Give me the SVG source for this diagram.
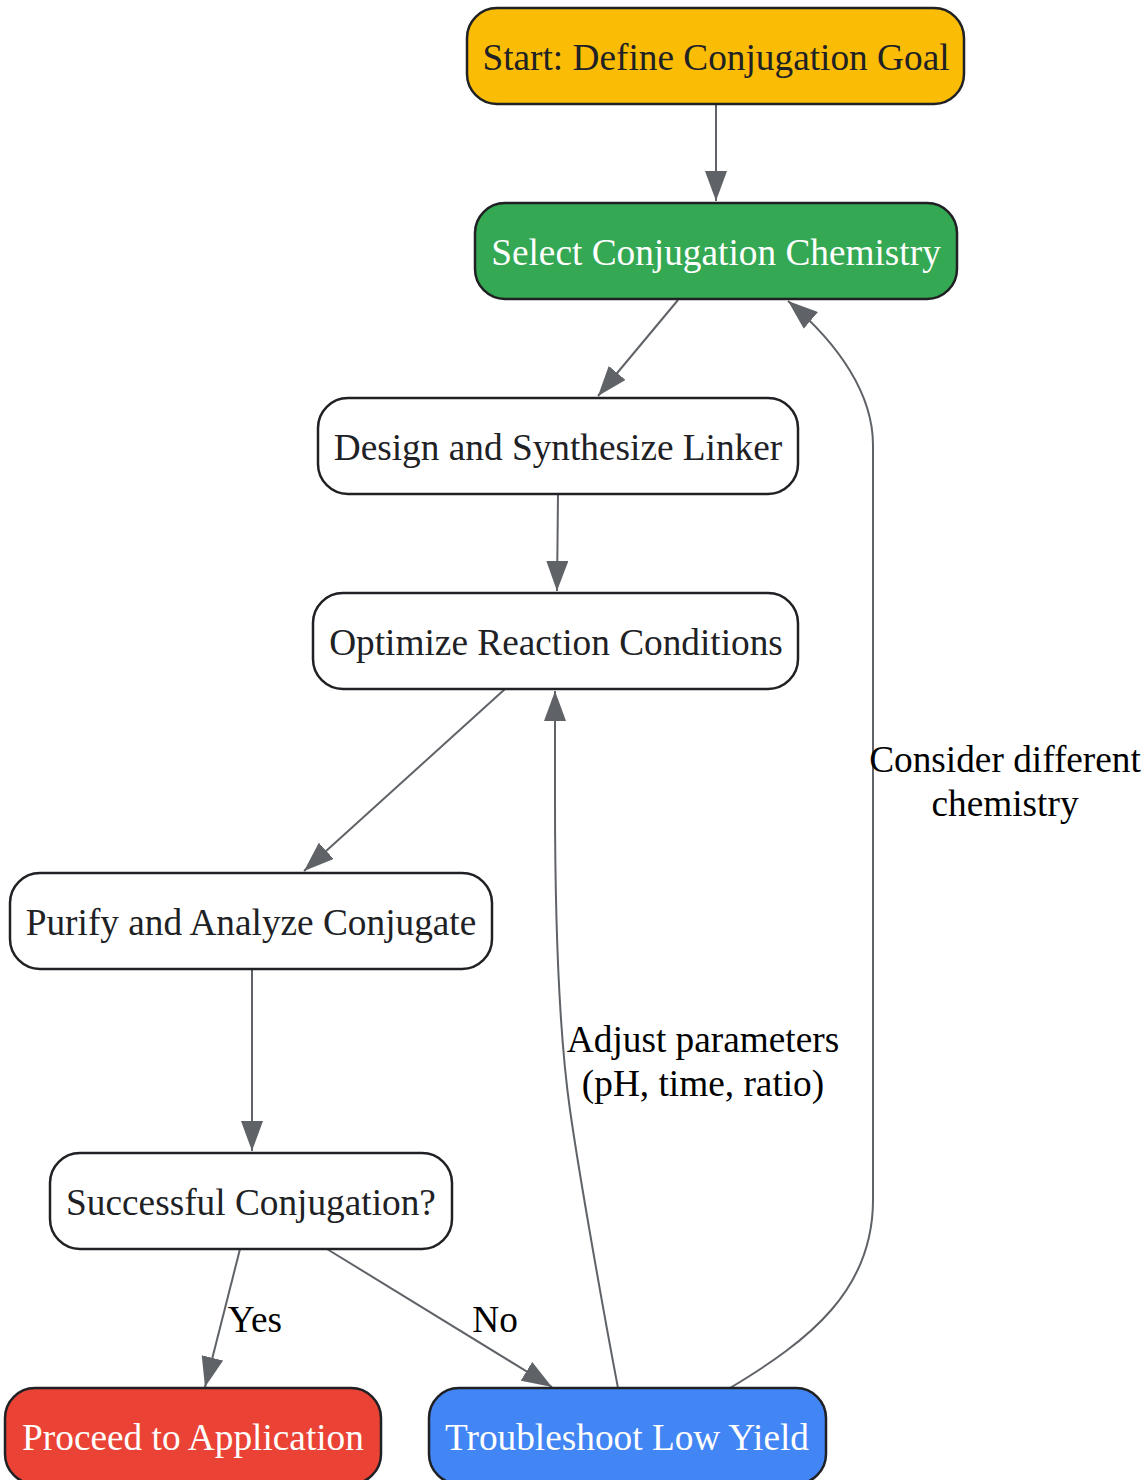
<svg xmlns="http://www.w3.org/2000/svg" width="1146" height="1480" viewBox="0 0 1146 1480">
<style>
.node rect{stroke:#202124;stroke-width:2.5}
.node text{font-family:"Liberation Serif","Times New Roman",serif;font-size:37.3px;text-anchor:middle;fill:#202124}
.node text.w{fill:#ffffff}
.edges path{fill:none;stroke:#5F6368;stroke-width:2;marker-end:url(#ah)}
.lbl{font-family:"Liberation Serif","Times New Roman",serif;font-size:37.3px;text-anchor:middle;fill:#000000}
</style>
<defs>
<marker id="ah" markerUnits="userSpaceOnUse" markerWidth="30" markerHeight="22" refX="30" refY="11" orient="auto" viewBox="0 0 30 22">
<path d="M0,0 L30,11 L0,22 z" fill="#5F6368"/>
</marker>
</defs>
<rect width="1146" height="1480" fill="#ffffff"/>
<g class="edges">
<path d="M716,104 L716,201"/>
<path d="M678,300 L598,396"/>
<path d="M558,494 L557,591"/>
<path d="M505,689 L304,871"/>
<path d="M252,969 L252,1151"/>
<path d="M240,1249 L205,1387"/>
<path d="M327,1249 L552,1387"/>
<path d="M618,1388 C605,1320 580,1180 570,1110 C560,1040 555,940 555,800 L555,691"/>
<path d="M730,1388 C810,1340 873,1290 873,1200 L873,445 C873,395 840,345 788,301"/>
<text class="lbl" x="1005" y="772">Consider different</text>
<text class="lbl" x="1005" y="816">chemistry</text>
<text class="lbl" x="703" y="1052">Adjust parameters</text>
<text class="lbl" x="703" y="1096">(pH, time, ratio)</text>
<text class="lbl" x="255" y="1332">Yes</text>
<text class="lbl" x="495" y="1332">No</text>
</g>
<g id="start" class="node"><rect x="467" y="8" width="497" height="96" rx="30" fill="#FBBC05"/><text x="716" y="70">Start: Define Conjugation Goal</text></g>
<g id="select" class="node"><rect x="475" y="203" width="482" height="96" rx="30" fill="#34A853"/><text class="w" x="716" y="265">Select Conjugation Chemistry</text></g>
<g id="design" class="node"><rect x="318" y="398" width="480" height="96" rx="30" fill="#ffffff"/><text x="558" y="460">Design and Synthesize Linker</text></g>
<g id="optimize" class="node"><rect x="313" y="593" width="485" height="96" rx="30" fill="#ffffff"/><text x="556" y="655">Optimize Reaction Conditions</text></g>
<g id="purify" class="node"><rect x="10" y="873" width="482" height="96" rx="30" fill="#ffffff"/><text x="251" y="935">Purify and Analyze Conjugate</text></g>
<g id="successful" class="node"><rect x="50" y="1153" width="402" height="96" rx="30" fill="#ffffff"/><text x="251" y="1215">Successful Conjugation?</text></g>
<g id="proceed" class="node"><rect x="5" y="1388" width="376" height="96" rx="30" fill="#EA4335"/><text class="w" x="193" y="1450">Proceed to Application</text></g>
<g id="troubleshoot" class="node"><rect x="429" y="1388" width="397" height="96" rx="30" fill="#4285F4"/><text class="w" x="627" y="1450">Troubleshoot Low Yield</text></g>
</svg>
